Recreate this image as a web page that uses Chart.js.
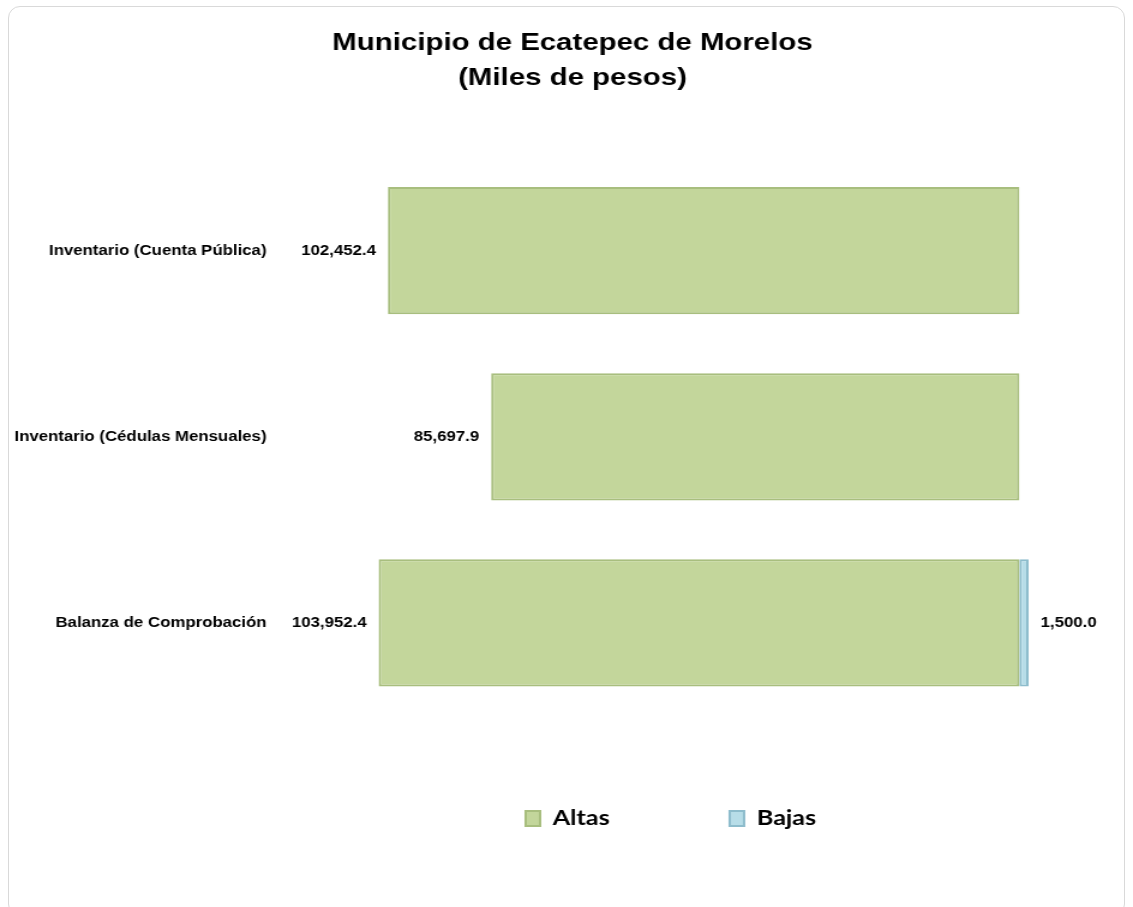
<!DOCTYPE html>
<html>
<head>
<meta charset="utf-8">
<script src="https://cdn.jsdelivr.net/npm/chart.js@4"></script>
<style>
  html, body { margin:0; padding:0; background:#fff; }
  body { width:1133px; height:907px; position:relative; overflow:hidden; }
  #frame { position:absolute; left:8px; top:6px; width:1117px; height:910px; border:1px solid #d9d9d9; border-radius:12px; box-sizing:border-box; }
  #chart { position:absolute; left:0; top:0; }
</style>
</head>
<body>
<div id="frame"></div>
<!-- la imagen original viene estirada a lo ancho (~1.2x): lienzo 944 px mostrado a 1133 px -->
<canvas id="chart" width="944" height="907" style="width:1133px;height:907px"></canvas>
<script>
// ====== datos ======
const categorias = ['Inventario (Cuenta Pública)', 'Inventario (Cédulas Mensuales)', 'Balanza de Comprobación'];
const altas = [102452.4, 85697.9, 103952.4];
const bajas = [0, 0, 1500.0];
const titulo = ['Municipio de Ecatepec de Morelos', '(Miles de pesos)'];

const fmt = v => Math.abs(v).toLocaleString('en-US', { minimumFractionDigits:1, maximumFractionDigits:1 });

// etiquetas de valor junto a cada barra
const etiquetas = {
  id:'etiquetas',
  afterDatasetsDraw(chart){
    const ctx = chart.ctx;
    ctx.save();
    ctx.font = 'bold 14px "Liberation Sans", Arial, sans-serif';
    ctx.fillStyle = '#000';
    ctx.textBaseline = 'middle';
    chart.data.datasets.forEach((ds, di) => {
      chart.getDatasetMeta(di).data.forEach((bar, i) => {
        const v = ds.data[i];
        if (!v) return;
        if (bar.x < bar.base) { ctx.textAlign = 'right'; ctx.fillText(fmt(v), bar.x - 10, bar.y); }
        else { ctx.textAlign = 'left'; ctx.fillText(fmt(v), bar.x + 10, bar.y); }
      });
    });
    ctx.restore();
  }
};

// título y leyenda del original están algo corridos a la derecha
const moverCajas = {
  id:'moverCajas',
  afterLayout(chart){
    const t = chart.titleBlock;
    if (t) { t.left += 14; t.right += 14; }
    const lg = chart.legend;
    if (lg) { lg.left += 96; lg.right += 96; lg.top -= 8; lg.bottom -= 8; }
  }
};

new Chart(document.getElementById('chart').getContext('2d'), {
  type:'bar',
  data:{
    labels: categorias,
    datasets:[
      { label:'Altas', data: altas, backgroundColor:'#c3d69b', borderColor:'#a8be7e', borderWidth:2, borderSkipped:false,
        categoryPercentage:0.8, barPercentage:0.855 },
      { label:'Bajas', data: bajas.map(v => -v), backgroundColor:'#b7dde8', borderColor:'#8dbccc', borderWidth:2, borderSkipped:false,
        categoryPercentage:0.8, barPercentage:0.855 }
    ]
  },
  options:{
    indexAxis:'y',
    responsive:false,
    animation:false,
    devicePixelRatio:1,
    layout:{ padding:{ left:2, right:20, top:0, bottom:60 } },
    plugins:{
      title:{
        display:true, text: titulo, color:'#000',
        font:{ family:'"Liberation Sans", Arial, sans-serif', size:24.5, weight:'bold', lineHeight:1.42 },
        padding:{ top:26, bottom:62 }
      },
      legend:{
        position:'bottom',
        labels:{ color:'#000', boxWidth:12, boxHeight:15, padding:100,
          font:{ family:'Lato, "Open Sans", sans-serif', size:21, weight:'bold' } }
      },
      tooltip:{ enabled:false }
    },
    scales:{
      x:{ display:false, stacked:true, reverse:true, min:-14550, max:120200 },
      y:{ stacked:true,
        grid:{ display:false, drawTicks:false }, border:{ display:false },
        ticks:{ color:'#000', padding:10, font:{ family:'"Liberation Sans", Arial, sans-serif', size:14, weight:'bold' } } }
    }
  },
  plugins:[etiquetas, moverCajas]
});
</script>
</body>
</html>
